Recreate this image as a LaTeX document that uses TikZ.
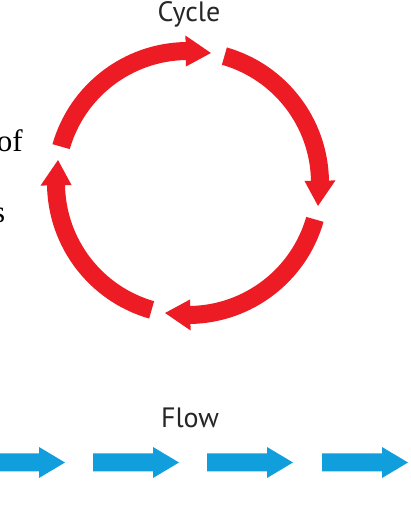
\documentclass[tikz,border=0pt]{standalone}
\usepackage{fontspec}
\usetikzlibrary{calc}
\newfontfamily\labelfont{PT Sans}
\newfontfamily\bodyfont{Liberation Serif}
\definecolor{cycred}{RGB}{237,28,36}
\definecolor{flowblue}{RGB}{16,158,220}
\begin{document}
\begin{tikzpicture}[x=1pt,y=1pt,
  title/.style={font=\labelfont\fontsize{28}{32}\selectfont, inner sep=0pt, text=black!85},
  bodytext/.style={font=\bodyfont\fontsize{31}{36}\selectfont, inner sep=0pt},
  redarrow/.style={fill=cycred, draw=none},
  bluearrow/.style={fill=flowblue, draw=none}]
\clip (0,0) rectangle (411,509);
\fill[white] (0,0) rectangle (411,509);
% text
\node[title, anchor=base] (cycle) at (189,487) {Cycle};
\node[title, anchor=base] (flow) at (190,81) {Flow};
\node[bodytext, anchor=base east] (of) at (23,357) {of};
\node[bodytext, anchor=base east] (s) at (5.5,286) {s};
% cycle arrows
\coordinate (c) at (188,326);
\def\R{132}
\foreach \a in {164,74,-16,-106}{
  \pgfmathsetmacro{\b}{\a-84}
  \pgfmathsetmacro{\h}{\b+11}
  \fill[redarrow] ($(c)+(\a:\R+9)$) arc[start angle=\a, end angle=\h, radius=\R+9]
    -- ($(c)+(\h:\R+15.5)$) -- ($(c)+(\b:\R)$) -- ($(c)+(\h:\R-15.5)$)
    -- ($(c)+(\h:\R-9)$) arc[start angle=\h, end angle=\a, radius=\R-9] -- cycle;
}
% flow arrows
\foreach \s in {-21,93,207,322}{
  \fill[bluearrow] (\s,55.5) -- (\s+60,55.5) -- (\s+60,62) -- (\s+86,46.5)
    -- (\s+60,31) -- (\s+60,37.5) -- (\s,37.5) -- cycle;
}
\end{tikzpicture}
\end{document}
